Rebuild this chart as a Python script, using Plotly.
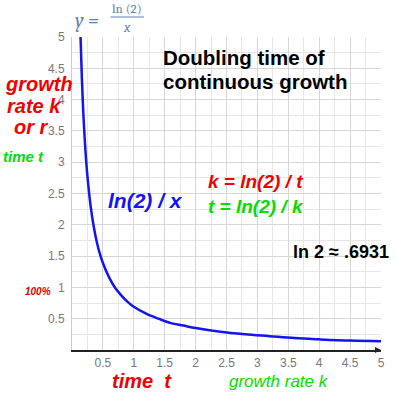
import plotly.graph_objects as go

# Data (doubling time curve)
curve_x = [0.12, 0.14, 0.16, 0.18, 0.2, 0.23, 0.26, 0.3, 0.35, 0.4, 0.45, 0.5, 0.6, 0.7,
           0.8, 0.9, 1.0, 1.2, 1.4, 1.6, 1.8, 2.0, 2.4, 2.8, 3.2, 3.6, 4.0, 4.5, 5.0]
curve_y = [5.78, 4.95, 4.33, 3.85, 3.47, 3.01, 2.67, 2.31, 1.98, 1.73, 1.54, 1.39, 1.16, 0.99,
           0.87, 0.77, 0.69, 0.58, 0.50, 0.43, 0.39, 0.35, 0.29, 0.25, 0.22, 0.19, 0.17, 0.15, 0.14]
tick_vals = [0.5, 1, 1.5, 2, 2.5, 3, 3.5, 4, 4.5, 5]
tick_labels = ["0.5", "1", "1.5", "2", "2.5", "3", "3.5", "4", "4.5", "5"]

W, H = 396, 395
L, R, T, B = 72, 11, 37, 45


def px(xp):
    return (xp - L) / (W - L - R)


def py(yp):
    return (H - B - yp) / (H - T - B)


SANS = "Arial, Liberation Sans, sans-serif"
SERIF = "Cambria, Liberation Serif, serif"

fig = go.Figure()
fig.add_trace(go.Scatter(x=curve_x, y=curve_y, mode="lines",
                         line=dict(color="#1414f0", width=2.5, shape="spline"),
                         hoverinfo="skip", showlegend=False))

grid_major = "#d6d6d6"
grid_minor = "#e6e6e6"
fig.update_xaxes(range=[0, 5], tickvals=tick_vals, ticktext=tick_labels,
                 showgrid=True, gridcolor=grid_major, gridwidth=1,
                 minor=dict(dtick=0.25, showgrid=True, gridcolor=grid_minor, gridwidth=1),
                 showline=True, linecolor="#222", linewidth=1.5, zeroline=False,
                 ticks="", ticklabelstandoff=1,
                 tickfont=dict(family=SANS, size=12, color="#777"), fixedrange=True)
fig.update_yaxes(range=[0, 5], tickvals=tick_vals, ticktext=tick_labels,
                 showgrid=True, gridcolor=grid_major, gridwidth=1,
                 minor=dict(dtick=0.25, showgrid=True, gridcolor=grid_minor, gridwidth=1),
                 showline=True, linecolor="#cccccc", linewidth=1, zeroline=False,
                 ticks="", ticklabelstandoff=4,
                 tickfont=dict(family=SANS, size=12, color="#777"), fixedrange=True)

anns = []


def add(text, xp, yp, size, color, family=SANS, xanchor="center", bold=True, italic=False):
    t = text
    if bold:
        t = "<b>" + t + "</b>"
    if italic:
        t = "<i>" + t + "</i>"
    anns.append(dict(text=t, x=px(xp), y=py(yp), xref="paper", yref="paper",
                     xanchor=xanchor, yanchor="middle", showarrow=False,
                     font=dict(family=family, size=size, color=color)))


# Title formula
fc = "#5a82ad"
add("y =", 73, 20, 20, fc, family=SERIF, xanchor="left", bold=False, italic=True)
add("ln (2)", 128, 8, 13, fc, family=SERIF, bold=False)
add("x", 128, 27, 14, fc, family=SERIF, bold=False, italic=True)

# Titles
add("Doubling time of", 162, 57, 20.5, "#000", xanchor="left")
add("continuous growth", 162, 81, 20.5, "#000", xanchor="left")

# Left labels
add("growth", 39, 84, 20, "#f00000", italic=True)
add("rate k", 34, 106, 20, "#f00000", italic=True)
add("or r", 31, 127, 20, "#f00000", italic=True)
add("time t", 23, 156, 15, "#00dd00", italic=True)
add("100%", 38, 291, 10, "#e00000", italic=True)

# Inner labels
add("ln(2) / x", 146, 200, 21, "#1414f0", italic=True)
add("k = ln(2) / t", 258, 181, 19, "#f00000", italic=True)
add("t = ln(2) / k", 258, 206, 19, "#00dd00", italic=True)
add("ln 2 ≈ .6931", 344, 252, 18, "#000")

# Bottom labels
add("time&nbsp;&nbsp;t", 143, 381, 20, "#f00000", italic=True)
add("growth rate k", 282, 381, 17, "#00dd00", bold=False, italic=True)

# Axis arrow at right end of x axis
anns.append(dict(x=5, y=0, xref="x", yref="y", ax=-7, ay=0, showarrow=True,
                 arrowhead=2, arrowsize=0.8, arrowwidth=1.5, arrowcolor="#222", text=""))

fig.update_layout(
    width=W, height=H, margin=dict(l=L, r=R, t=T, b=B),
    paper_bgcolor="white", plot_bgcolor="white",
    annotations=anns,
    shapes=[dict(type="line", xref="paper", yref="paper",
                 x0=px(111), x1=px(145), y0=py(17), y1=py(17),
                 line=dict(color=fc, width=1))],
)

fig.write_html("out.html", config={"displayModeBar": False},
               post_script="document.body.style.margin='0';")
